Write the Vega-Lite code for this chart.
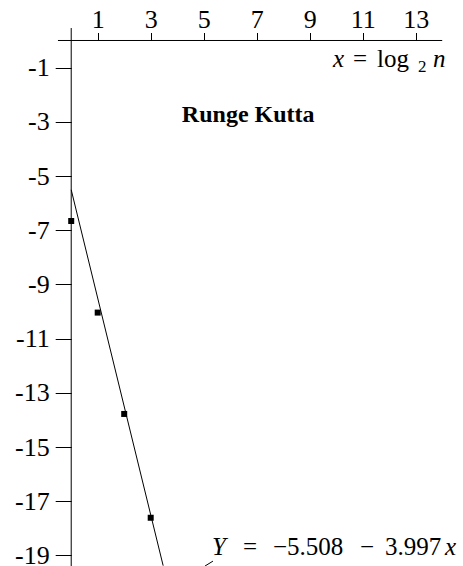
{
  "$schema": "https://vega.github.io/schema/vega-lite/v6.json",
  "width": 463,
  "height": 566,
  "autosize": "none",
  "padding": 0,
  "background": "white",
  "config": {"view": {"stroke": null}, "font": "'Liberation Serif', serif"},
  "datasets": {
    "points": [{"x": 0, "y": -6.66}, {"x": 1, "y": -10.04}, {"x": 2, "y": -13.78}, {"x": 3, "y": -17.61}],
    "fit": [{"x": 0, "y": -5.508}, {"x": 3.47, "y": -19.378}],
    "rules": [
      {"x": -0.5, "x2": 14, "y": 0, "y2": 0},
      {"x": 0, "x2": 0, "y": 0.46, "y2": -19.39},
      {"x": 5.05, "x2": 5.35, "y": -19.39, "y2": -19.21}
    ],
    "upright": [
      {"x": 10.634, "y": -0.978, "t": "="},
      {"x": 11.54, "y": -0.978, "t": "log"},
      {"x": 6.483, "y": -18.985, "t": "="},
      {"x": 7.615, "y": -18.985, "t": "−5.508"},
      {"x": 10.898, "y": -18.985, "t": "−"},
      {"x": 11.842, "y": -18.985, "t": "3.997"}
    ],
    "italic": [
      {"x": 9.879, "y": -0.978, "t": "x"},
      {"x": 13.653, "y": -0.978, "t": "n"},
      {"x": 5.313, "y": -18.985, "t": "Y"},
      {"x": 14.106, "y": -18.985, "t": "x"}
    ],
    "sub": [{"x": 13.087, "y": -1.162, "t": "2"}],
    "title": [{"x": 6.679, "y": -3.007, "t": "Runge Kutta"}]
  },
  "layer": [
    {
      "data": {"name": "rules"},
      "mark": {"type": "rule", "color": "black", "strokeWidth": 1},
      "encoding": {
        "x": {"field": "x", "type": "quantitative", "scale": {"domain": [-2.687, 14.785], "nice": false, "zero": false},
          "axis": {"orient": "top", "offset": -40.5, "values": [1,2,3,4,5,6,7,8,9,10,11,12,13], "domain": false, "grid": false, "title": null,
            "tickSize": 8, "tickColor": "black", "tickWidth": 1,
            "labelExpr": "datum.value % 2 == 1 ? datum.label : ''", "labelFontSize": 26, "labelColor": "black", "labelFont": "'Liberation Serif', serif",
            "labelPadding": 5, "labelBaseline": "alphabetic", "labelOverlap": false, "labelFlush": false}},
        "x2": {"field": "x2"},
        "y": {"field": "y", "type": "quantitative", "scale": {"domain": [-19.39, 1.494], "nice": false, "zero": false},
          "axis": {"orient": "left", "offset": -71.2, "values": [-1,-2,-3,-4,-5,-6,-7,-8,-9,-10,-11,-12,-13,-14,-15,-16,-17,-18,-19], "domain": false, "grid": false, "title": null,
            "tickSize": 16, "tickColor": "black", "tickWidth": 1,
            "labelExpr": "datum.value % 2 != 0 ? toString(datum.value) : ''", "labelFontSize": 26, "labelColor": "black", "labelFont": "'Liberation Serif', serif",
            "labelPadding": 6, "labelBaseline": "middle", "labelOverlap": false, "labelFlush": false, "labelBound": false}},
        "y2": {"field": "y2"}
      }
    },
    {
      "data": {"name": "fit"},
      "mark": {"type": "line", "color": "black", "strokeWidth": 1},
      "encoding": {
        "x": {"field": "x", "type": "quantitative"},
        "y": {"field": "y", "type": "quantitative"}
      }
    },
    {
      "data": {"name": "points"},
      "mark": {"type": "square", "color": "black", "filled": true, "opacity": 1, "size": 36},
      "encoding": {
        "x": {"field": "x", "type": "quantitative"},
        "y": {"field": "y", "type": "quantitative"}
      }
    },
    {
      "data": {"name": "upright"},
      "mark": {"type": "text", "align": "left", "baseline": "alphabetic", "fontSize": 25, "font": "'Liberation Serif', serif", "color": "black"},
      "encoding": {
        "x": {"field": "x", "type": "quantitative"},
        "y": {"field": "y", "type": "quantitative"},
        "text": {"field": "t"}
      }
    },
    {
      "data": {"name": "italic"},
      "mark": {"type": "text", "align": "left", "baseline": "alphabetic", "fontSize": 25, "fontStyle": "italic", "font": "'Liberation Serif', serif", "color": "black"},
      "encoding": {
        "x": {"field": "x", "type": "quantitative"},
        "y": {"field": "y", "type": "quantitative"},
        "text": {"field": "t"}
      }
    },
    {
      "data": {"name": "sub"},
      "mark": {"type": "text", "align": "left", "baseline": "alphabetic", "fontSize": 17, "font": "'Liberation Serif', serif", "color": "black"},
      "encoding": {
        "x": {"field": "x", "type": "quantitative"},
        "y": {"field": "y", "type": "quantitative"},
        "text": {"field": "t"}
      }
    },
    {
      "data": {"name": "title"},
      "mark": {"type": "text", "align": "center", "baseline": "alphabetic", "fontSize": 24, "fontWeight": "bold", "font": "'Liberation Serif', serif", "color": "black"},
      "encoding": {
        "x": {"field": "x", "type": "quantitative"},
        "y": {"field": "y", "type": "quantitative"},
        "text": {"field": "t"}
      }
    }
  ]
}
